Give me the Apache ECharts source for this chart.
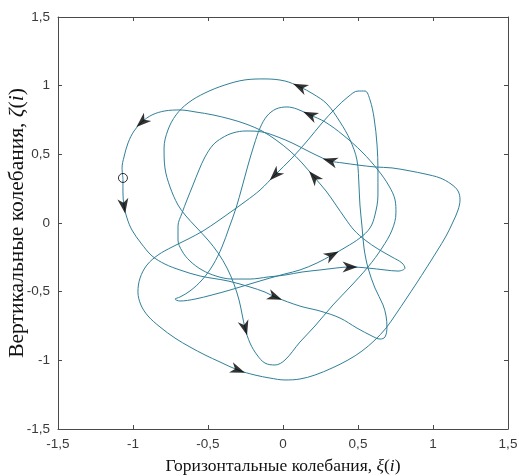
<!DOCTYPE html>
<html><head><meta charset="utf-8">
<script src="https://cdn.jsdelivr.net/npm/echarts@6/dist/echarts.min.js"></script>
<style>html,body{margin:0;padding:0;background:#fff}#c{width:519px;height:476px}</style>
</head><body><div id="c"></div>
<script>
// Trajectory points (horizontal ξ, vertical ζ)
const pathX = [
-1.067,-1.067,-1.060,-1.040,-1.007,-0.947,-0.873,-0.787,-0.687,-0.553,
-0.367,-0.220,-0.120,-0.053,0.113,0.247,0.380,0.493,0.593,0.647,
0.680,0.693,0.687,0.667,0.613,0.567,0.540,0.527,0.513,0.507,
0.493,0.447,0.380,0.293,0.200,0.113,0.013,-0.120,-0.253,-0.387,
-0.520,-0.633,-0.713,-0.767,-0.793,-0.787,-0.753,-0.700,-0.647,-0.580,
-0.500,-0.433,-0.373,-0.327,-0.293,-0.273,-0.253,-0.220,-0.173,-0.120,
-0.053,0.013,0.113,0.213,0.333,0.447,0.567,0.660,0.727,0.753,
0.747,0.707,0.633,0.527,0.400,0.280,0.180,0.093,0.027,-0.047,
-0.107,-0.153,-0.193,-0.233,-0.273,-0.313,-0.360,-0.407,-0.467,-0.540,
-0.620,-0.687,-0.720,-0.687,-0.587,-0.473,-0.353,-0.220,-0.087,0.013,
0.113,0.227,0.327,0.420,0.513,0.580,0.613,0.633,0.633,0.627,
0.607,0.580,0.547,0.500,0.433,0.353,0.260,0.167,0.060,-0.053,
-0.153,-0.247,-0.340,-0.433,-0.533,-0.633,-0.740,-0.833,-0.907,-0.953,
-0.967,-0.947,-0.900,-0.820,-0.720,-0.620,-0.520,-0.420,-0.300,-0.187,
-0.087,0.013,0.113,0.213,0.327,0.433,0.527,0.613,0.687,0.753,
0.820,0.887,0.960,1.027,1.087,1.133,1.167,1.180,1.167,1.120,
1.047,0.947,0.847,0.727,0.613,0.500,0.400,0.313,0.220,0.140,
0.060,-0.033,-0.140,-0.247,-0.333,-0.407,-0.467,-0.520,-0.560,-0.600,
-0.640,-0.673,-0.700,-0.700,-0.673,-0.620,-0.540,-0.447,-0.340,-0.220,
-0.100,0.013,0.127,0.247,0.353,0.447,0.567,0.680,0.767,0.813,
0.793,0.727,0.633,0.547,0.473,0.413,0.353,0.287,0.207,0.127,
0.047,-0.047,-0.140,-0.247,-0.353,-0.467,-0.580,-0.687,-0.787,-0.873,
-0.940,-0.993,-1.033,-1.060,-1.073,-1.067
];
const pathY = [
0.328,0.226,0.124,0.036,-0.051,-0.146,-0.240,-0.299,-0.342,-0.386,
-0.422,-0.466,-0.503,-0.539,-0.605,-0.641,-0.692,-0.765,-0.823,-0.845,
-0.830,-0.757,-0.677,-0.597,-0.473,-0.328,-0.182,-0.029,0.131,0.262,
0.459,0.605,0.736,0.867,0.940,0.991,1.034,1.049,1.042,1.005,
0.947,0.874,0.787,0.677,0.546,0.401,0.262,0.131,0.051,-0.029,
-0.124,-0.218,-0.328,-0.444,-0.561,-0.663,-0.765,-0.874,-0.961,-1.020,
-1.034,-0.998,-0.867,-0.750,-0.597,-0.466,-0.320,-0.182,-0.051,0.073,
0.168,0.269,0.386,0.517,0.641,0.736,0.787,0.830,0.845,0.830,
0.779,0.692,0.568,0.422,0.262,0.109,-0.036,-0.175,-0.306,-0.415,
-0.495,-0.539,-0.554,-0.568,-0.554,-0.524,-0.488,-0.444,-0.401,-0.371,
-0.342,-0.291,-0.233,-0.175,-0.109,-0.036,0.058,0.204,0.386,0.568,
0.765,0.896,0.961,0.961,0.918,0.838,0.728,0.605,0.473,0.350,
0.240,0.160,0.087,0.015,-0.058,-0.117,-0.175,-0.233,-0.306,-0.401,
-0.503,-0.597,-0.677,-0.757,-0.838,-0.903,-0.961,-1.012,-1.071,-1.107,
-1.129,-1.143,-1.136,-1.107,-1.056,-0.998,-0.932,-0.852,-0.765,-0.663,
-0.554,-0.444,-0.320,-0.204,-0.095,0.007,0.095,0.168,0.233,0.284,
0.328,0.357,0.379,0.401,0.408,0.422,0.437,0.452,0.495,0.539,
0.583,0.626,0.663,0.670,0.656,0.619,0.568,0.481,0.386,0.277,
0.168,0.073,-0.022,-0.124,-0.204,-0.277,-0.342,-0.386,-0.408,-0.408,
-0.393,-0.379,-0.357,-0.342,-0.328,-0.320,-0.328,-0.342,-0.350,-0.328,
-0.291,-0.248,-0.189,-0.124,-0.051,0.036,0.131,0.233,0.335,0.437,
0.524,0.605,0.670,0.721,0.757,0.787,0.808,0.823,0.816,0.787,
0.736,0.670,0.583,0.481,0.401,0.328
];
// indices of path points that carry a direction arrow
const arrowIdx = [2,13,35,56,76,102,119,138,167,195,208,220];
// start marker = first path point
const axisMin = -1.5, axisMax = 1.5, axisStep = 0.5;
const xTitleText = 'Горизонтальные колебания, ';
const yTitleText = 'Вертикальные колебания, ';

const chart = echarts.init(document.getElementById('c'), null, {renderer:'canvas'});
const fmt = v => String(v).replace('.', ',');
const frameColor = '#4a4a4a';
function mkAxis(pos, labels, extra){
  return Object.assign({
    type:'value', min:axisMin, max:axisMax, interval:axisStep, position:pos,
    axisLine:{show:true, onZero:false, lineStyle:{color:frameColor, width:1}},
    axisTick:{show:true, inside:true, length:4, lineStyle:{color:frameColor}},
    axisLabel:{show:labels, formatter:fmt, color:'#3a3a3a', fontFamily:'Liberation Sans', fontSize:13.5, margin:8},
    splitLine:{show:false}
  }, extra||{});
}
const mkName = fs => ({fontFamily:'Liberation Serif', fontSize:fs, color:'#111', lineHeight:fs,
  rich:{it:{fontFamily:'Liberation Serif', fontSize:fs, fontStyle:'italic', color:'#111', lineHeight:fs}}});
const lineData = pathX.map((x,i)=>[x, pathY[i]]);
const option = {
  animation:false,
  backgroundColor:'#fff',
  grid:{left:58, right:11, top:17, bottom:47, containLabel:false, outerBoundsMode:'none'},
  xAxis:[
    mkAxis('bottom', true, {name: xTitleText + '{it|ξ}({it|i})', nameLocation:'middle', nameGap:29, nameMoveOverlap:false, nameTextStyle:mkName(17.5)}),
    mkAxis('top', false)
  ],
  yAxis:[
    mkAxis('left', true, {name: yTitleText + '{it|ζ}({it|i})', nameLocation:'middle', nameGap:30, nameMoveOverlap:false, nameTextStyle:mkName(21.5)}),
    mkAxis('right', false)
  ],
  series:[
    {type:'line', data:lineData, showSymbol:false, smooth:0.35, lineStyle:{color:'#2f7f99', width:1}, z:2},
    {type:'scatter', data:[[pathX[0], pathY[0]]], symbol:'circle', symbolSize:9, itemStyle:{color:'rgba(255,255,255,0)', borderColor:'#000', borderWidth:1}, z:3}
  ]
};
chart.setOption(option);
const px = i => chart.convertToPixel({gridIndex:0}, [pathX[i], pathY[i]]);
const arrowData = arrowIdx.map(i => {
  const a = px(i-1), b = px(i+1);
  const ang = Math.atan2(-(b[1]-a[1]), b[0]-a[0]) * 180/Math.PI;
  return {value:[pathX[i], pathY[i]], symbolRotate: ang};
});
chart.setOption({series:[{},{},{
  type:'scatter', data:arrowData, symbol:'path://M0,0L14,5L0,10L4,5Z', symbolSize:[15,11],
  itemStyle:{color:'#000'}, z:4
}]});
</script></body></html>
